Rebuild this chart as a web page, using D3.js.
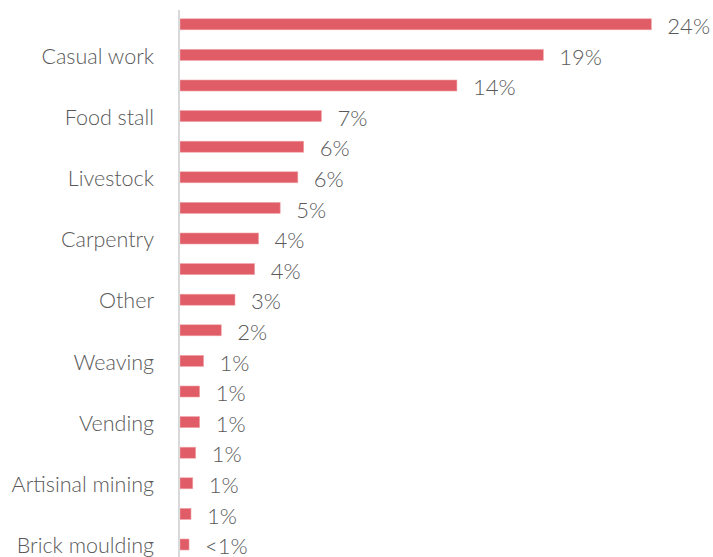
<!DOCTYPE html>
<html>
<head>
<meta charset="utf-8">
<script src="https://cdn.jsdelivr.net/npm/d3@7"></script>
<style>
  html, body { margin: 0; padding: 0; background: #fff; }
  svg { display: block; font-family: Lato, "Open Sans", sans-serif; font-weight: 300; }
</style>
</head>
<body>
<svg id="chart" width="713" height="557"></svg>
<script>
// Share of respondents by income source (%), top to bottom
const categories = [
  "Farming", "Casual work", "Petty trade", "Food stall", "Fishing",
  "Livestock", "Transport", "Carpentry", "Tailoring", "Other",
  "Salaried job", "Weaving", "Charcoal", "Vending", "Remittances",
  "Artisinal mining", "Crafts", "Brick moulding"
];
const values = [
  24.0, 18.5, 14.1, 7.2, 6.3,
  6.0, 5.1, 4.0, 3.8, 2.8,
  2.1, 1.2, 1.0, 1.0, 0.8,
  0.65, 0.56, 0.46
];
// Only every other category name is printed on the axis
const shownLabels = categories.filter((d, i) => i % 2 === 1);

const data = categories.map((c, i) => ({ category: c, value: values[i] }));

const svg = d3.select("#chart");
const margin = { top: 9, left: 180, right: 42, bottom: 0 };
const width = 713 - margin.left - margin.right;

const x = d3.scaleLinear().domain([0, 25]).range([0, width]);
const y = d3.scaleBand()
  .domain(categories)
  .range([0, 18 * 30.6])
  .paddingInner(0.64)
  .paddingOuter(0.32);

const g = svg.append("g").attr("transform", `translate(${margin.left},${margin.top})`);

// Bars
g.selectAll("rect.bar")
  .data(data)
  .join("rect")
  .attr("class", "bar")
  .attr("x", 0)
  .attr("y", d => y(d.category))
  .attr("width", d => x(d.value))
  .attr("height", y.bandwidth())
  .attr("fill", "#e05c66")
  .attr("stroke", "#f0a5aa")
  .attr("stroke-width", 0.6);

// Category axis
const yAxis = d3.axisLeft(y)
  .tickSize(0)
  .tickPadding(26)
  .tickFormat(d => shownLabels.includes(d) ? d : "");
const axisG = g.append("g").call(yAxis);
axisG.select(".domain").remove();
axisG.selectAll("text")
  .attr("fill", "#595959")
  .attr("dy", "0.4em")
  .style("font-size", "21.5px")
  .style("font-family", "Lato, 'Open Sans', sans-serif")
  .style("font-weight", 300);

// Axis line
g.append("line")
  .attr("x1", -1).attr("x2", -1)
  .attr("y1", 1).attr("y2", 557)
  .attr("stroke", "#d9d9d9")
  .attr("stroke-width", 2);

// Value labels
const fmt = v => v < 0.5 ? "<1%" : Math.round(v) + "%";
g.selectAll("text.val")
  .data(data)
  .join("text")
  .attr("class", "val")
  .attr("x", d => x(d.value) + 16)
  .attr("y", d => y(d.category) + y.bandwidth() / 2 + 2)
  .attr("dy", "0.35em")
  .attr("fill", "#595959")
  .style("font-size", "22px")
  .text(d => fmt(d.value));
</script>
</body>
</html>
